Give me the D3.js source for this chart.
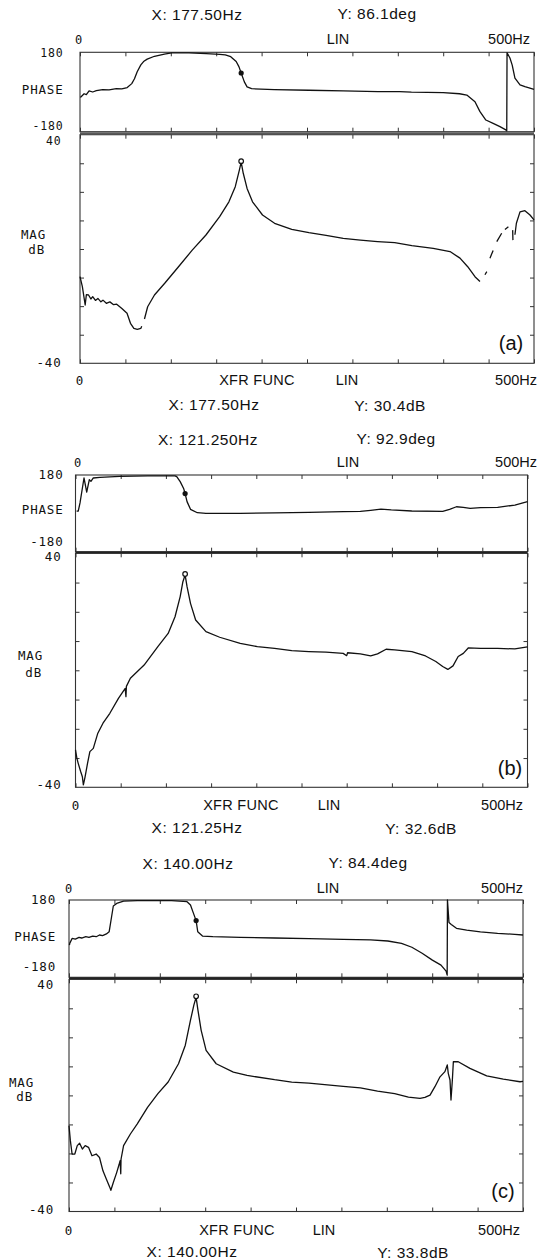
<!DOCTYPE html>
<html><head><meta charset="utf-8">
<script src="https://cdn.jsdelivr.net/npm/d3@7"></script>
<style>
html,body{margin:0;padding:0;background:#fff;}
svg{display:block;}
.sans{font-family:"Liberation Sans",Arial,sans-serif;fill:#111;}
.mono{font-family:"DejaVu Sans Mono",monospace;fill:#111;letter-spacing:0.8px;}
</style>
</head><body>
<svg id="chart" width="538" height="1260"></svg>
<script>
// ---------- data ----------
const freqDomain = [0, 500];
const freqTicks = [0, 50, 100, 150, 200, 250, 300, 350, 400, 450, 500];
const phaseDomain = [-180, 180];
const magDomain = [-40, 40];
const magTicks = [-30, -20, -10, 0, 10, 20, 30];
const phaseTickLabels = ["180", "PHASE", "-180"];
const magTickLabels = ["40", "MAG", "dB", "-40"];
const topAxisLabels = ["0", "LIN", "500Hz"];
const bottomAxisLabels = ["0", "XFR FUNC", "LIN", "500Hz"];
const panelTags = ["(a)", "(b)", "(c)"];
// cursor readouts
const cursorHz = [177.5, 121.25, 140.0];
const cursorDeg = [86.1, 92.9, 84.4];
const cursorDb = [30.4, 32.6, 33.8];
const cursorXTop = ["X: 177.50Hz", "X: 121.250Hz", "X: 140.00Hz"];
const cursorYTop = ["Y: 86.1deg", "Y: 92.9deg", "Y: 84.4deg"];
const cursorXBot = ["X: 177.50Hz", "X: 121.25Hz", "X: 140.00Hz"];
const cursorYBot = ["Y: 30.4dB", "Y: 32.6dB", "Y: 33.8dB"];

// phase traces [Hz, deg]
const phaseA = [[0.5,-25],[1.5,-20],[4.5,-8],[7,-12],[10,5],[14,0],[18,6],[25,11],[32,10],[40,15],[46,14],[52,20],[57,38],[60,60],[63,92],[67,123],[70,138],[74,149],[82,162],[93,172],[101,177],[120,177],[139,174],[154,171],[160,168],[166,160],[172,138],[175,115],[177.5,86],[181,46],[184,23],[189,15],[214,11],[252,8],[290,5],[328,2],[352,1.4],[365,-1],[400,-3],[418,-8],[426,-14],[435,-44],[440.5,-89],[447,-127],[455,-142],[462.5,-157],[469,-172],[470,-176],[470.3,178],[473.5,154],[476,122],[479,63],[484.6,32],[490,24],[500,12]];
const phaseB = [[1.2,10],[3,10],[5,49],[9.4,166],[12.4,100],[15.3,158],[17.1,150],[19.7,166],[27,169],[49,174],[80,176],[110,176],[112,172],[115.8,149],[119.6,117],[121.25,93],[123.4,55],[127.2,19],[134.8,3],[144.3,0],[182.2,0],[220.2,2],[258.2,5],[296.1,8],[315.1,9],[326.5,14],[337.9,20],[349.3,16],[372,11],[406.2,9],[413.8,19],[421.4,31],[429,28],[436.6,23],[448,27],[467,28],[486,39],[500,55]];
const phaseC = [[0.5,-30],[0.8,-22],[3.4,1],[7,-2],[11,6],[14,3],[18.5,9],[22,6],[26.1,12],[30,9],[33.6,17],[37,14],[41.2,22],[44.2,32],[46.9,102],[48.8,152],[52.5,164],[60.1,175],[75.2,177],[113,177],[130,172],[133.8,157],[136.4,126],[140,84],[141.8,32],[147,12],[158.4,9],[188.6,6],[226.4,3],[264.2,0],[302,-3],[332.2,-6],[351.1,-11],[366.2,-22],[377.6,-40],[388.9,-68],[400.2,-100],[409.7,-123],[415.3,-151],[416.5,-170],[416.8,180],[418.5,75],[421,66],[426.7,48],[438,40],[453.1,32],[472,25],[490.9,20],[500,17]];

// magnitude traces [Hz, dB]; null = gap in the trace
const magA = [[0,-9.7],[2.6,-13.2],[5.7,-19.6],[7,-16],[9.4,-16.1],[12,-17.5],[14,-16.7],[17,-18],[19.7,-17.3],[23,-18.5],[25.3,-17.9],[29,-19],[32.9,-18.5],[37,-19.5],[40.4,-19.3],[46.1,-20.8],[51.8,-22.5],[55.6,-26],[59.3,-27.8],[63.1,-28.1],[66.9,-27.8],[68,-27],[69,null],[71,-24.5],[74.5,-20.2],[82,-16.1],[93.3,-12],[108.5,-6.2],[123.6,-0.4],[138.7,4.9],[153.8,11.3],[164,16.5],[171,21.8],[175.5,27.6],[177.5,30.4],[179.8,26.5],[184,21.2],[190,16.5],[201,11.9],[214.3,9],[233.2,6.9],[252.1,5.7],[271,4.8],[289.9,3.7],[308.8,3.1],[327.7,2.6],[346.6,2.2],[365.5,1.2],[389,0.25],[407.5,-0.9],[418.5,-3.2],[427,-6.2],[435,-9.7],[440.5,-11.4],[443,null],[446,-9],[448,-7.9],[449,null],[451.5,-3.2],[455,-0.5],[456,null],[459,2.6],[464.4,5.5],[466,null],[468,6.8],[471.8,7.8],[473,null],[476.5,6.6],[476.8,3.1],[478,null],[479,5],[480.6,9],[484.6,13],[490,13.4],[495.6,11.9],[500,10.2]];
const magB = [[0,-27.2],[1.5,-30],[3,-31.8],[5.7,-34.6],[7.6,-36.4],[8.7,-39.2],[10.6,-36.4],[13.3,-31.8],[15.9,-27.8],[19.7,-26.7],[24.7,-21.5],[30.4,-18.1],[38,-14.7],[47.5,-9.6],[55,-6.2],[55.8,-9],[56.3,-5.5],[60.7,-2.7],[75.9,1.8],[91.1,8.1],[102.5,12.6],[110.1,18.3],[115.8,25.2],[118.8,30.3],[121.25,32.6],[123.4,28.6],[127.2,22.9],[132.9,17.2],[144.3,13.2],[159.5,11.3],[182.2,9.2],[201.2,8.1],[220.2,7.5],[239.2,6.7],[258.2,6.4],[277.1,6.2],[296.1,5.8],[300,5.0],[301,6],[315.1,5.6],[326.5,4.9],[334.1,5.6],[343.6,7.2],[353.1,7],[372.1,6.4],[387.2,4.9],[398.6,3],[406.2,1.3],[411.9,0.3],[417.6,1.5],[423.3,4.7],[429,5.8],[434.7,7.7],[448,7.5],[467,7.5],[486,7.3],[500,8]];
const magC = [[0,-10.4],[1.5,-15.6],[3.4,-20.2],[6.4,-20.2],[9.1,-17.3],[11.7,-16.5],[14.7,-18.5],[17.8,-17.3],[21.5,-17.9],[25.3,-20.8],[29.9,-20.2],[33.6,-21.4],[37.4,-26],[41.2,-28.9],[45,-31.7],[46.1,-32.7],[48.8,-30],[52.5,-26.6],[55,-24],[56.3,-22.5],[57,-27],[57.3,-22],[60.1,-17.3],[67.6,-13.3],[75.2,-9.8],[86.5,-4.1],[97.9,0.6],[109.2,4.6],[120.6,10.9],[128.1,17.3],[133.8,25.9],[137.5,31.1],[140,33.8],[142,29.4],[145.5,22.5],[151,15.5],[162.1,10.9],[181,8],[196.1,6.9],[226.4,5.4],[245.3,4.6],[264.2,4.2],[302,3.1],[320.9,2.6],[339.8,1.5],[358.7,0.6],[373.8,-0.6],[386.6,-1.0],[392,-0.7],[397.6,0.1],[403,3.0],[408.6,6.4],[414,8.2],[416.6,10.5],[417.7,7.6],[419.6,5.3],[420.7,-1.6],[422.2,5.3],[423.3,11.6],[428.7,11.6],[441.6,9.3],[460,6.7],[478.3,5.6],[496.7,4.7],[500,4.8]];

const phaseSeries = [phaseA, phaseB, phaseC];
const magSeries = [magA, magB, magC];

// ---------- layout ----------
const layout = [
  {L:80, R:534, pT:52.3, pB:131.7, mT:134.7, mB:363.3,
   hX:197, hY:377, hYy:20, top0:79, tLin:338, t500:530, topY:44,
   lblR:63.5, y180:57, yPh:94, yM180:130, y40:144.5, magR:46, yMag:239, yDb:254, yM40:367,
   bot0:80, bXfr:257, bLin:347, b500:537, botY:385, bX:214, bY:390, bcY:410, tagX:511, tagY:350},
  {L:75.5, R:527.5, pT:475, pB:551.7, mT:553.3, mB:787.3,
   hX:208, hY:396, hYy:445, top0:78, tLin:348, t500:537, topY:467,
   lblR:63.5, y180:479, yPh:514, yM180:546, y40:561, magR:43, yMag:660, yDb:677, yM40:789,
   bot0:76, bXfr:241, bLin:329, b500:523, botY:810, bX:197, bY:421, bcY:833, tagX:510, tagY:775},
  {L:69, R:523, pT:900, pB:977.3, mT:979.3, mB:1211.5,
   hX:188, hY:368, hYy:869, top0:69, tLin:328, t500:523, topY:893,
   lblR:56, y180:904, yPh:941, yM180:971, y40:989, magR:34, yMag:1087, yDb:1101, yM40:1214,
   bot0:69, bXfr:237, bLin:324, b500:520, botY:1235, bX:192, bY:413, bcY:1257, tagX:503, tagY:1198}
];

const svg = d3.select("#chart");

layout.forEach((g, i) => {
  const x = d3.scaleLinear().domain(freqDomain).range([g.L, g.R]);
  const yP = d3.scaleLinear().domain(phaseDomain).range([g.pB, g.pT]);
  const yM = d3.scaleLinear().domain(magDomain).range([g.mB, g.mT]);
  const p = svg.append("g");

  // frames
  p.append("rect").attr("x", g.L).attr("y", g.pT).attr("width", g.R - g.L).attr("height", g.pB - g.pT)
    .attr("fill", "none").attr("stroke", "#333").attr("stroke-width", 1.1);
  p.append("rect").attr("x", g.L).attr("y", g.mT).attr("width", g.R - g.L).attr("height", g.mB - g.mT)
    .attr("fill", "none").attr("stroke", "#333").attr("stroke-width", 1.1);
  p.append("line").attr("x1", g.L).attr("x2", g.R).attr("y1", (g.pB + g.mT) / 2).attr("y2", (g.pB + g.mT) / 2)
    .attr("stroke", "#222").attr("stroke-width", i === 0 ? 1.2 : 2.2);

  const tick = (ax, y) => {
    const a = p.append("g").attr("transform", `translate(0,${y})`).call(ax);
    a.select(".domain").remove();
    a.selectAll("line").attr("stroke", "#333");
  };
  tick(d3.axisBottom(x).tickValues(freqTicks).tickSize(4).tickFormat(""), g.pT);
  tick(d3.axisTop(x).tickValues(freqTicks).tickSize(4).tickFormat(""), g.pB);
  tick(d3.axisBottom(x).tickValues(freqTicks).tickSize(4).tickFormat(""), g.mT);
  tick(d3.axisTop(x).tickValues(freqTicks).tickSize(4).tickFormat(""), g.mB);
  const ya = (ax, xx) => {
    const a = p.append("g").attr("transform", `translate(${xx},0)`).call(ax);
    a.select(".domain").remove();
    a.selectAll("line").attr("stroke", "#333");
  };
  ya(d3.axisRight(yM).tickValues(magTicks).tickSize(4).tickFormat(""), g.L);
  ya(d3.axisLeft(yM).tickValues(magTicks).tickSize(4).tickFormat(""), g.R);

  // traces
  const line = (yScale) => d3.line().defined(d => d[1] !== null).x(d => x(d[0])).y(d => yScale(d[1]));
  p.append("path").datum(phaseSeries[i]).attr("d", line(yP))
    .attr("fill", "none").attr("stroke", "#111").attr("stroke-width", 1.3).attr("stroke-linejoin", "round");
  p.append("path").datum(magSeries[i]).attr("d", line(yM))
    .attr("fill", "none").attr("stroke", "#111").attr("stroke-width", 1.3).attr("stroke-linejoin", "round");

  // cursor markers
  p.append("circle").attr("cx", x(cursorHz[i])).attr("cy", yP(cursorDeg[i])).attr("r", 2.6).attr("fill", "#111");
  p.append("circle").attr("cx", x(cursorHz[i])).attr("cy", yM(cursorDb[i]) - 1).attr("r", 2.3)
    .attr("fill", "#fff").attr("stroke", "#111").attr("stroke-width", 1.2);

  const txt = (cls, xx, yy, anchor, size, s) =>
    p.append("text").attr("class", cls).attr("x", xx).attr("y", yy).attr("text-anchor", anchor)
      .attr("font-size", size).text(s);

  // header readouts
  txt("sans", g.hX, g.hYy, "middle", 15.5, cursorXTop[i]).attr("letter-spacing", 0.5);
  txt("sans", g.hY, g.hYy - 1, "middle", 15.5, cursorYTop[i]).attr("letter-spacing", 0.5);
  // top axis row
  txt("mono", g.top0, g.topY, "middle", 12, topAxisLabels[0]);
  txt("sans", g.tLin, g.topY, "middle", 14.5, topAxisLabels[1]);
  txt("sans", g.t500, g.topY, "end", 14.5, topAxisLabels[2]);

  // left labels
  const ls = i === 0 ? 11.5 : 12.5;
  txt("mono", g.lblR, g.y180, "end", ls, phaseTickLabels[0]);
  txt("mono", g.lblR, g.yPh, "end", 12.5, phaseTickLabels[1]);
  txt("mono", g.lblR, g.yM180, "end", ls, phaseTickLabels[2]);
  txt("mono", g.lblR - 2, g.y40, "end", ls, magTickLabels[0]);
  txt("mono", g.magR, g.yMag, "end", 12.5, magTickLabels[1]);
  txt("mono", g.magR - 1, g.yDb, "end", 12.5, magTickLabels[2]);
  txt("mono", g.lblR - 2, g.yM40, "end", 12.5, magTickLabels[3]);

  // bottom axis row
  txt("mono", g.bot0, g.botY, "middle", 12.5, bottomAxisLabels[0]);
  txt("sans", g.bXfr, g.botY, "middle", 14.5, bottomAxisLabels[1]).attr("letter-spacing", 0.3);
  txt("sans", g.bLin, g.botY, "middle", 14.5, bottomAxisLabels[2]);
  txt("sans", g.b500, g.botY, "end", 14.5, bottomAxisLabels[3]);
  txt("sans", g.bX, g.bcY, "middle", 15.5, cursorXBot[i]).attr("letter-spacing", 0.5);
  txt("sans", g.bY, g.bcY + 1, "middle", 15.5, cursorYBot[i]).attr("letter-spacing", 0.5);

  // panel tag
  txt("sans", g.tagX, g.tagY, "middle", 20, panelTags[i]);
});
</script>
</body></html>
